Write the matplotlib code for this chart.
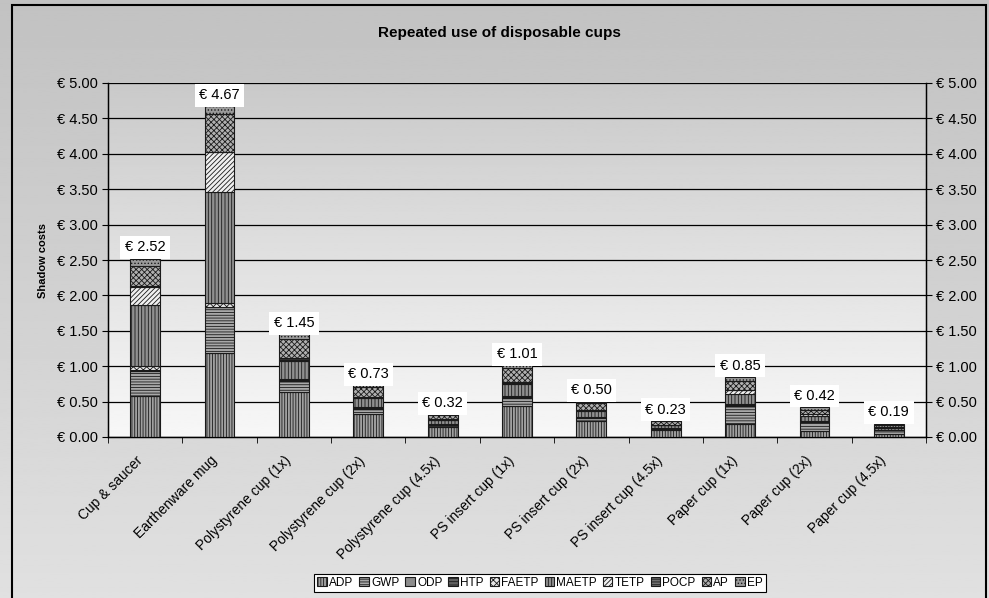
"""
Shadow costs of reusable vs. disposable cups, stacked per impact category.
"""

import matplotlib.pyplot as plt
import matplotlib.patches as mpatches
import matplotlib.ticker as mticker
import matplotlib.transforms as mtransforms
import numpy as np

plt.rcParams["font.family"] = ["Liberation Sans", "DejaVu Sans"]
plt.rcParams["hatch.linewidth"] = 0.6

CUPS = ["Cup & saucer", "Earthenware mug", "Polystyrene cup (1x)",
        "Polystyrene cup (2x)", "Polystyrene cup (4.5x)", "PS insert cup (1x)",
        "PS insert cup (2x)", "PS insert cup (4.5x)", "Paper cup (1x)",
        "Paper cup (2x)", "Paper cup (4.5x)"]

# shadow costs (euro) per impact category, one value per cup
ADP = [0.58, 1.19, 0.64, 0.32, 0.14, 0.44, 0.22, 0.10, 0.19, 0.09, 0.04]
GWP = [0.35, 0.64, 0.15, 0.08, 0.03, 0.11, 0.05, 0.02, 0.25, 0.12, 0.055]
ODP = [0.00, 0.00, 0.00, 0.00, 0.00, 0.00, 0.00, 0.00, 0.00, 0.00, 0.00]
HTP = [0.01, 0.01, 0.02, 0.01, 0.005, 0.02, 0.01, 0.005, 0.01, 0.005, 0.00]
FAETP = [0.06, 0.05, 0.01, 0.01, 0.005, 0.01, 0.005, 0.005, 0.02, 0.01, 0.005]
MAETP = [0.87, 1.57, 0.26, 0.13, 0.06, 0.17, 0.085, 0.04, 0.14, 0.07, 0.03]
TETP = [0.25, 0.56, 0.01, 0.01, 0.005, 0.01, 0.005, 0.00, 0.05, 0.025, 0.01]
POCP = [0.01, 0.01, 0.02, 0.01, 0.005, 0.01, 0.005, 0.005, 0.01, 0.005, 0.005]
AP = [0.29, 0.53, 0.28, 0.13, 0.06, 0.20, 0.10, 0.045, 0.12, 0.06, 0.03]
EP = [0.10, 0.11, 0.06, 0.03, 0.01, 0.04, 0.02, 0.01, 0.06, 0.035, 0.015]

CATEGORIES = ["ADP", "GWP", "ODP", "HTP", "FAETP", "MAETP", "TETP", "POCP", "AP", "EP"]
SERIES = [ADP, GWP, ODP, HTP, FAETP, MAETP, TETP, POCP, AP, EP]

# black & white fill patterns, in the same order as CATEGORIES
FACES = ["#a0a0a0", "#a8a8a8", "#8c8c8c", "#606060", "#e8e8e8",
         "#909090", "#f0f0f0", "#707070", "#b0b0b0", "#9a9a9a"]
HATCHES = ["||||||", "------", "", "-----", "xxxxx",
           "|||||", "///////", "------", "xxxxxx", "....."]

W, H = 989, 598
fig = plt.figure(figsize=(W / 100, H / 100), dpi=100)

# grey gradient behind the whole chart
bg = fig.add_axes([0, 0, 1, 1], zorder=-10)
bg.imshow(np.linspace(0.76, 0.88, 256)[:, None], cmap="gray", vmin=0, vmax=1,
          aspect="auto", extent=[0, 1, 0, 1])
bg.set_axis_off()
fig.patches.append(mpatches.Rectangle((12 / W, -0.05), 974 / W, 1.05 - 5 / H,
                                      transform=fig.transFigure, fill=False,
                                      edgecolor="black", linewidth=1.5))

ax = fig.add_axes([108 / W, (H - 437) / H, 818 / W, 354 / H])
ax.set_facecolor("none")
ax.imshow(np.linspace(0.79, 0.97, 256)[:, None], cmap="gray", vmin=0, vmax=1,
          aspect="auto", extent=[0, 1, 0, 1], transform=ax.transAxes, zorder=0)

x = np.arange(len(CUPS))
bottom = np.zeros(len(CUPS))
for name, vals, fc, hatch in zip(CATEGORIES, SERIES, FACES, HATCHES):
    vals = np.array(vals)
    ax.bar(x, vals, width=0.4, bottom=bottom, color=fc, hatch=hatch,
           edgecolor="#1a1a1a", linewidth=0.8, zorder=3, label=name)
    bottom += vals

# totals in white boxes above each stack
for xi, total in zip(x, bottom):
    ax.annotate(f"€ {total:.2f}", (xi, total), xytext=(0, 3),
                textcoords="offset points", ha="center", va="bottom",
                fontsize=10.5, zorder=5,
                bbox=dict(boxstyle="square,pad=0.3", fc="white", ec="none"))

ax.set_xlim(-0.5, len(CUPS) - 0.5)
ax.set_ylim(0, 5)
ax.yaxis.set_major_locator(mticker.MultipleLocator(0.5))
euro = mticker.FuncFormatter(lambda v, p: f"€ {v:.2f}")
ax.yaxis.set_major_formatter(euro)
ax.grid(axis="y", color="black", linewidth=0.9, zorder=1)
ax.set_axisbelow(True)

ax.set_xticks(x)
ax.set_xticklabels(CUPS, rotation=45, ha="right", va="top",
                   rotation_mode="anchor", fontsize=10)
ax.set_xticks(np.arange(-0.5, len(CUPS), 1.0), minor=True)
ax.tick_params(axis="x", which="major", length=0, pad=12)
ax.tick_params(axis="x", which="minor", length=4, color="black")
ax.tick_params(axis="y", length=4, labelsize=10.5, color="black")
# nudge the slanted category names a little to the left
shift = mtransforms.ScaledTranslation(-7 / 72, 0, fig.dpi_scale_trans)
for lbl in ax.get_xticklabels():
    lbl.set_transform(lbl.get_transform() + shift)

for side in ["left", "right", "bottom"]:
    ax.spines[side].set_linewidth(1.0)
    ax.spines[side].set_color("black")
ax.spines["top"].set_visible(False)

ax2 = ax.twinx()
ax2.set_ylim(0, 5)
ax2.yaxis.set_major_locator(mticker.MultipleLocator(0.5))
ax2.yaxis.set_major_formatter(euro)
ax2.tick_params(axis="y", length=4, labelsize=10.5, color="black")
ax2.spines["top"].set_visible(False)
ax2.spines["right"].set_color("black")

ax.set_ylabel("Shadow costs", fontsize=8, fontweight="bold", labelpad=6)
fig.text(0.505, 1 - 33 / H, "Repeated use of disposable cups",
         ha="center", va="center", fontsize=11, fontweight="bold")

handles = [mpatches.Patch(facecolor=fc, hatch=h, edgecolor="#1a1a1a",
                          linewidth=0.8, label=n)
           for n, fc, h in zip(CATEGORIES, FACES, HATCHES)]
leg = fig.legend(handles=handles, loc="center", ncol=10,
                 bbox_to_anchor=(540 / W, 1 - 583 / H), fontsize=8.5,
                 handlelength=0.8, handleheight=0.8, handletextpad=0.2,
                 columnspacing=0.5, borderpad=0.25, fancybox=False,
                 framealpha=1, edgecolor="black")
leg.get_frame().set_linewidth(0.8)

fig.savefig("out.png", dpi=100)
